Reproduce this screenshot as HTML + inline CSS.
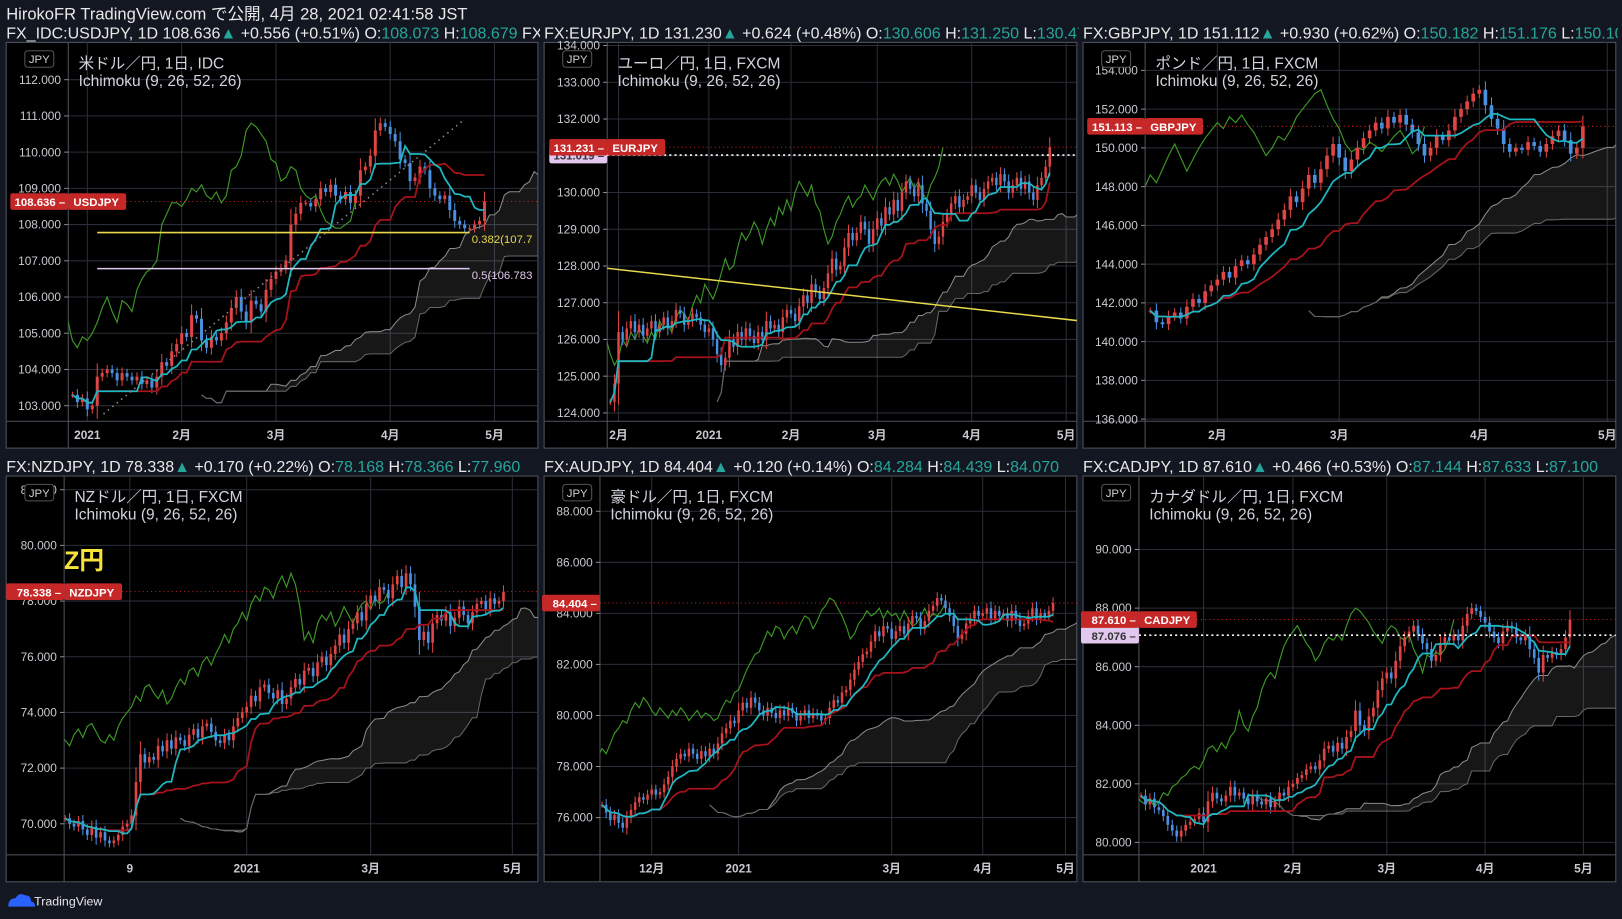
<!DOCTYPE html>
<html><head><meta charset="utf-8"><style>
html,body{margin:0;padding:0;background:#131722;overflow:hidden}
svg{display:block}
text{font-family:"Liberation Sans","Noto Sans CJK JP",sans-serif}
</style></head><body>
<svg id="root" xmlns="http://www.w3.org/2000/svg" width="1622" height="919" viewBox="0 0 1568 888" preserveAspectRatio="none">
<rect x="0" y="0" width="1568" height="888" fill="#131722"/>
<text x="6" y="19" font-size="16" fill="#e8e8e8">HirokoFR TradingView.com で公開, 4月 28, 2021 02:41:58 JST</text>
<g>
<path d="M8 876 q0-8 7-8 q3-6 9-3 q6 0 6 6 q4 1 4 5 z" fill="#2962ff"/>
<text x="33" y="875" font-size="12" fill="#e8e8e8">TradingView</text>
</g>
</svg>
<script>
// ===== Data arrays =====
const usdCloses=[103.3,103.1,103.2,
102.9,103.0,103.8,103.9,104.0,103.9,103.7,103.9,103.8,103.7,103.8,103.6,103.7,103.5,103.8,104.2,104.1,104.5,104.7,
105.0,104.9,105.5,105.4,104.8,104.6,104.9,104.8,105.0,105.3,105.7,106.0,105.6,105.3,105.9,105.8,105.6,106.2,106.5,
106.7,106.8,107.0,108.0,108.3,108.6,108.6,108.5,108.7,109.0,108.9,109.1,108.8,108.7,108.9,108.6,108.8,109.5,109.6,109.9,110.6,110.8,110.7,
110.5,110.3,109.8,109.7,109.2,109.3,109.6,109.5,109.0,108.8,108.7,108.8,108.4,108.1,108.0,107.9,107.9,108.0,108.1,108.636];
const usdTicks=[103,104,105,106,107,108,109,110,111,112];
const usdMonthLabels=["2021","2月","3月","4月","5月"];
const usdMonthIdx=[3,22,41,64,85];
const usdFibLevels=[107.78,106.783];
const usdFibLabels=["0.382(107.7","0.5(106.783"];
const usdTrendIdx=[6.25,79];
const usdTrendVal=[102.77,110.91];

const eurCloses=[124.3,124.8,126.2,
126.0,126.3,126.5,126.2,126.4,126.1,126.3,126.5,126.2,126.4,126.6,126.3,126.5,126.8,126.7,126.4,126.5,126.7,126.6,126.4,126.2,126.3,
126.0,125.6,125.3,125.5,126.0,125.8,126.2,126.0,126.3,126.1,125.9,126.2,126.0,126.5,126.3,126.4,126.2,126.6,126.8,126.7,
126.5,126.9,127.2,127.0,127.5,127.3,127.1,127.4,127.8,128.2,127.9,128.0,128.5,128.9,128.7,128.9,129.2,129.0,128.6,129.0,
129.3,129.1,129.6,129.4,129.8,129.5,130.0,130.3,130.1,129.9,130.2,129.7,129.5,129.0,128.6,128.8,129.2,129.4,129.7,129.9,129.6,129.8,129.9,
130.2,130.0,129.8,130.1,130.3,130.4,130.2,130.5,130.3,130.0,130.2,130.4,130.1,130.3,130.0,129.8,130.2,130.4,130.7,131.231];
const eurTicks=[124,125,126,127,128,129,130,131,132,133,134];
const eurMonthLabels=["2月","2021","2月","3月","4月","5月"];
const eurMonthIdx=[2,24,44,65,88,111];
const eurTrendIdx=[-1,114];
const eurTrendVal=[127.94,126.51];
const eurRefLevel=131.019;

const gbpCloses=[141.6,141.0,140.9,141.3,141.5,141.2,141.8,142.2,142.0,142.6,142.9,
143.2,143.6,143.3,143.9,144.2,144.0,144.5,145.0,145.4,145.8,146.3,146.8,147.5,147.2,147.9,148.6,148.2,148.9,149.6,150.2,
149.5,148.8,149.4,150.0,150.5,150.9,151.3,151.0,151.6,151.3,151.7,151.2,150.8,150.2,149.6,150.0,150.6,150.4,150.9,151.6,152.0,152.4,152.8,
153.0,152.2,151.5,151.0,150.2,149.8,150.0,149.9,150.3,150.1,149.8,150.2,150.6,150.9,150.4,149.7,150.0,151.113];
const gbpTicks=[136,138,140,142,144,146,148,150,152,154];
const gbpMonthLabels=["2月","3月","4月","5月"];
const gbpMonthIdx=[11,31,54,75];

const nzdCloses=[70.2,70.0,69.9,70.1,69.8,69.6,69.9,69.5,69.7,69.4,
69.3,69.4,69.6,69.9,70.0,70.3,71.5,72.5,72.2,72.4,
72.3,72.8,72.6,73.0,72.7,73.1,73.0,72.8,73.2,73.4,
73.1,73.5,73.6,73.3,73.0,72.9,73.2,73.0,73.5,73.8,
74.0,74.2,74.6,74.4,74.9,75.0,74.7,74.5,74.8,74.3,
74.5,74.9,75.2,75.0,75.5,75.6,75.3,75.8,76.0,75.7,
76.1,76.4,76.8,76.5,77.0,77.2,77.6,77.3,77.9,78.2,
78.0,78.5,78.4,78.1,78.6,78.9,78.5,79.0,78.6,77.8,
76.6,76.9,76.5,77.2,77.5,77.3,77.6,77.1,77.4,77.8,
77.5,77.2,77.6,77.9,78.0,77.7,78.1,77.9,78.0,78.338];
const nzdTicks=[70,72,74,76,78,80,82];
const nzdMonthLabels=["9","2021","3月","5月"];
const nzdMonthIdx=[14.6,41,69,101];

const audCloses=[76.5,76.2,75.9,76.1,75.8,75.6,76.0,76.3,76.6,76.8,
76.7,76.9,77.1,76.9,77.0,77.3,77.6,78.0,78.3,78.5,
78.4,78.7,78.5,78.3,78.6,78.4,78.7,78.5,78.9,79.3,
79.5,79.8,79.7,80.2,80.5,80.3,80.7,80.5,80.2,80.0,
80.3,80.1,79.9,80.2,80.0,80.3,80.1,79.8,80.0,80.2,
79.9,80.1,80.0,79.8,79.9,80.3,80.6,80.5,80.9,81.0,
81.4,81.8,82.1,82.4,82.5,82.9,83.3,83.1,83.5,83.4,
83.0,83.3,83.5,83.2,83.6,83.9,83.8,83.4,83.7,84.1,
84.3,84.6,84.5,84.2,83.9,83.5,83.0,83.2,83.6,83.8,
84.1,83.9,84.0,84.2,83.8,84.1,83.9,84.0,83.7,84.1,
83.8,83.5,83.6,83.9,84.2,83.8,84.0,83.9,84.1,84.404];
const audTicks=[76,78,80,82,84,86,88];
const audMonthLabels=["12月","2021","3月","4月","5月"];
const audMonthIdx=[12,33,70,92,112];

const cadCloses=[81.6,81.3,81.5,81.2,81.1,80.9,80.6,80.4,80.2,80.4,
80.6,80.7,80.8,81.0,80.7,81.4,81.7,81.5,81.4,81.6,
81.9,81.6,81.7,81.5,81.3,81.6,81.4,81.3,81.5,81.2,
81.4,81.7,81.6,81.9,82.0,82.2,82.3,82.5,82.6,82.5,
82.8,83.2,83.3,83.1,83.4,83.2,83.6,83.8,84.5,84.0,
83.8,84.3,84.6,85.2,85.6,85.8,85.6,86.2,86.7,87.0,
87.2,87.4,87.1,86.8,86.6,86.2,86.4,86.8,87.0,86.9,
87.1,86.9,87.4,87.8,88.0,87.9,87.7,87.5,87.2,87.0,
86.8,87.2,87.4,87.3,87.0,86.9,87.1,86.6,86.3,85.8,
86.4,86.3,86.5,86.4,86.6,87.0,87.61];
const cadTicks=[80,82,84,86,88,90];
const cadMonthLabels=["2021","2月","3月","4月","5月"];
const cadMonthIdx=[14,34,55,77,99];
const cadRefLevel=87.076;

// ===== Rendering =====
const NS='http://www.w3.org/2000/svg';
const root=document.getElementById('root');
function mk(tag,attrs,parent){const e=document.createElementNS(NS,tag);for(const k in attrs)e.setAttribute(k,attrs[k]);(parent||root).appendChild(e);return e;}
const TEAL='#26a69a', UP='#e04444', DOWN='#4a8fe0';

const panels=[
 {id:'usdjpy',px:6,py:41,pw:514,ph:392,ax:66,pb:407,yA:{v:112,y:77},yB:{v:103,y:392},x0:70,dx:4.8,closes:usdCloses,ticks:usdTicks,ml:usdMonthLabels,mi:usdMonthIdx,
  sym:'USDJPY',title:'米ドル／円, 1日, IDC',hdr:['FX_IDC:USDJPY, 1D 108.636','+0.556 (+0.51%) O:','108.073',' H:','108.679',' FX','']},
 {id:'eurjpy',px:526,py:41,pw:515,ph:392,ax:587,pb:407,yA:{v:134,y:44},yB:{v:124,y:399},x0:590,dx:3.97,closes:eurCloses,ticks:eurTicks,ml:eurMonthLabels,mi:eurMonthIdx,
  sym:'EURJPY',title:'ユーロ／円, 1日, FXCM',hdr:['FX:EURJPY, 1D 131.230','+0.624 (+0.48%) O:','130.606',' H:','131.250',' L:','130.470']},
 {id:'gbpjpy',px:1047,py:41,pw:515,ph:392,ax:1107,pb:407,yA:{v:154,y:68},yB:{v:136,y:405},x0:1112,dx:5.89,closes:gbpCloses,ticks:gbpTicks,ml:gbpMonthLabels,mi:gbpMonthIdx,
  sym:'GBPJPY',title:'ポンド／円, 1日, FXCM',hdr:['FX:GBPJPY, 1D 151.112','+0.930 (+0.62%) O:','150.182',' H:','151.176',' L:','150.100']},
 {id:'nzdjpy',px:6,py:460,pw:514,ph:392,ax:62,pb:826,yA:{v:80,y:527},yB:{v:70,y:796},x0:63,dx:4.28,closes:nzdCloses,ticks:nzdTicks,ml:nzdMonthLabels,mi:nzdMonthIdx,
  sym:'NZDJPY',title:'NZドル／円, 1日, FXCM',hdr:['FX:NZDJPY, 1D 78.338','+0.170 (+0.22%) O:','78.168',' H:','78.366',' L:','77.960']},
 {id:'audjpy',px:526,py:460,pw:515,ph:392,ax:580,pb:826,yA:{v:88,y:494},yB:{v:76,y:790},x0:582,dx:4.0,closes:audCloses,ticks:audTicks,ml:audMonthLabels,mi:audMonthIdx,
  sym:null,title:'豪ドル／円, 1日, FXCM',hdr:['FX:AUDJPY, 1D 84.404','+0.120 (+0.14%) O:','84.284',' H:','84.439',' L:','84.070']},
 {id:'cadjpy',px:1047,py:460,pw:515,ph:392,ax:1101,pb:826,yA:{v:90,y:531},yB:{v:80,y:814},x0:1103,dx:4.32,closes:cadCloses,ticks:cadTicks,ml:cadMonthLabels,mi:cadMonthIdx,
  sym:'CADJPY',title:'カナダドル／円, 1日, FXCM',hdr:['FX:CADJPY, 1D 87.610','+0.466 (+0.53%) O:','87.144',' H:','87.633',' L:','87.100']}
];

function midRange(h,l,i,n){let s=Math.max(0,i-n+1),hi=-1e9,lo=1e9;for(let k=s;k<=i;k++){if(h[k]>hi)hi=h[k];if(l[k]<lo)lo=l[k];}return (hi+lo)/2;}

panels.forEach(function(c){
 const X=i=>c.x0+i*c.dx;
 const Y=v=>c.yA.y+(v-c.yA.v)*(c.yB.y-c.yA.y)/(c.yB.v-c.yA.v);
 const g=mk('g',{});
 
 
 const cpH=mk('clipPath',{id:'hc-'+c.id},g); mk('rect',{x:c.px,y:c.py-20,width:c.pw+2,height:20},cpH);
 const hy=c.py-4;
 const ht=mk('text',{x:c.px,y:hy,'font-size':15.5,fill:'#e8e8e8','clip-path':'url(#hc-'+c.id+')'},g);
 
 
 const parts=[[c.hdr[0],'#e8e8e8'],['▲',TEAL],[' '+c.hdr[1],'#e8e8e8'],[c.hdr[2],TEAL],[c.hdr[3],'#e8e8e8'],[c.hdr[4],TEAL]];
 if(c.hdr[5]) parts.push([c.hdr[5],'#e8e8e8']);
 if(c.hdr[6]) parts.push([c.hdr[6],TEAL]);
 parts.forEach(p=>{const ts=mk('tspan',{fill:p[1]},ht);ts.textContent=p[0];});
 const box=mk('rect',{x:c.px,y:c.py,width:c.pw,height:c.ph,fill:'#000',stroke:'#50535e','stroke-width':1},g);
 
 
 const cp=mk('clipPath',{id:'pc-'+c.id},g); mk('rect',{x:c.ax,y:c.py,width:c.px+c.pw-c.ax,height:c.pb-c.py},cp);
 const grid=mk('g',{stroke:'#2b2e38','stroke-width':1,'clip-path':'url(#pc-'+c.id+')'},g);
 
 
 c.ticks.forEach(t=>{mk('line',{x1:c.ax,x2:c.px+c.pw,y1:Y(t),y2:Y(t)},grid);});
 c.mi.forEach(m=>{mk('line',{x1:X(m),x2:X(m),y1:c.py,y2:c.pb},grid);});
 const axl=mk('line',{x1:c.ax,x2:c.ax,y1:c.py,y2:c.py+c.ph,stroke:'#50535e'},g);
 
 
 const bxl=mk('line',{x1:c.px,x2:c.px+c.pw,y1:c.pb,y2:c.pb,stroke:'#50535e'},g);
 
 
 const yl=mk('g',{'font-size':11.5,fill:'#c8cad0','text-anchor':'end'},g);
 
 
 c.ticks.forEach(t=>{const yy=Y(t); if(yy<c.py+3||yy>c.pb)return;
  const tt=mk('text',{x:c.ax-7,y:yy+4},yl); tt.textContent=t.toFixed(3);
  
  
  mk('line',{x1:c.ax-4,x2:c.ax,y1:yy,y2:yy,stroke:'#888'},yl);});
 const xl=mk('g',{'font-size':11.5,fill:'#c8cad0','text-anchor':'middle','font-weight':'bold'},g);
 
 
 c.ml.forEach((m,k)=>{const tt=mk('text',{x:X(c.mi[k]),y:c.pb+17},xl);tt.textContent=m;
  
  });
 const n=c.closes.length, O=[],H=[],L=[];
 const unit=(c.yA.v-c.yB.v)/(c.yB.y-c.yA.y);
 for(let i=0;i<n;i++){const cl=c.closes[i],op=i?c.closes[i-1]:cl;O.push(op);
  const w=Math.abs(cl-op)*0.35+unit*3; H.push(Math.max(op,cl)+w); L.push(Math.min(op,cl)-w);}
 const ten=[],kij=[],spA=[],spB=[];
 for(let i=0;i<n;i++){ten.push(midRange(H,L,i,9));kij.push(midRange(H,L,i,26));spA.push((ten[i]+kij[i])/2);spB.push(midRange(H,L,i,52));}
 const plot=mk('g',{'clip-path':'url(#pc-'+c.id+')'},g);
 
 
 let top=[],bot=[];
 for(let i=0;i<n;i++){top.push(X(i+26).toFixed(1)+','+Y(spA[i]).toFixed(1));bot.push(X(i+26).toFixed(1)+','+Y(spB[i]).toFixed(1));}
 const cloud=mk('polygon',{points:top.concat(bot.slice().reverse()).join(' '),fill:'rgba(255,255,255,0.09)'},plot);
 
 
 const la=mk('polyline',{points:top.join(' '),fill:'none',stroke:'#8a8a8a','stroke-width':1},plot);
 
 
 const lb=mk('polyline',{points:bot.join(' '),fill:'none',stroke:'#666','stroke-width':1},plot);
 
 
 let ch=[];for(let i=0;i<n;i++)ch.push(X(i-26).toFixed(1)+','+Y(c.closes[i]).toFixed(1));
 const chl=mk('polyline',{points:ch.join(' '),fill:'none',stroke:'#3d9a25','stroke-width':1.1},plot);
 
 
 const cg=mk('g',{},plot);
 
 
 const bw=Math.max(1.5,c.dx*0.6);
 for(let i=0;i<n;i++){const up=c.closes[i]>=O[i],col=up?UP:DOWN,x=X(i);
  mk('line',{x1:x,x2:x,y1:Y(H[i]),y2:Y(L[i]),stroke:col,'stroke-width':1},cg);
  const y1=Y(Math.max(O[i],c.closes[i])),y2=Y(Math.min(O[i],c.closes[i]));
  const r=mk('rect',{x:x-bw/2,y:y1,width:bw,height:Math.max(1,y2-y1),fill:col},cg);
  
  }
 const kp=kij.map((v,i)=>X(i).toFixed(1)+','+Y(v).toFixed(1)).join(' ');
 const kl=mk('polyline',{points:kp,fill:'none',stroke:'#a8121a','stroke-width':1.7},plot);
 
 
 const tp=ten.map((v,i)=>X(i).toFixed(1)+','+Y(v).toFixed(1)).join(' ');
 const tl=mk('polyline',{points:tp,fill:'none',stroke:'#1fb8c2','stroke-width':1.7},plot);
 
 
 const last=c.closes[n-1];
 const lp=mk('line',{x1:c.ax,x2:c.px+c.pw,y1:Y(last),y2:Y(last),stroke:'#c62828','stroke-dasharray':'1 3','stroke-width':1},plot);
 
 
 c.X=X;c.Y=Y;c.g=g;c.plot=plot;c.last=last;
 const jb=mk('rect',{x:c.px+18,y:c.py+8,width:28,height:16,rx:3,fill:'#000',stroke:'#555'},g);
 
 
 const jt=mk('text',{x:c.px+32,y:c.py+20,'font-size':11,fill:'#d0d0d0','text-anchor':'middle'},g);jt.textContent='JPY';
 
 
 const t1=mk('text',{x:c.ax+10,y:c.py+25,'font-size':15,fill:'#d1d4dc'},g);t1.textContent=c.title;
 
 
 const t2=mk('text',{x:c.ax+10,y:c.py+42,'font-size':15,fill:'#d1d4dc'},g);t2.textContent='Ichimoku (9, 26, 52, 26)';
 
 
});

function priceTag(c,val,label,bg,fg,name){
 const y=c.Y(val);
 const g=mk('g',{},c.g);
 
 
 mk('rect',{x:c.ax-56,y:y-8,width:56,height:16,rx:2,fill:bg},g);
 const t=mk('text',{x:c.ax-3,y:y+4.5,'font-size':11,'font-weight':'bold',fill:fg,'text-anchor':'end'},g);t.textContent=val.toFixed(3)+' –';
 if(label){mk('rect',{x:c.ax,y:y-8,width:56,height:16,rx:2,fill:bg},g);
  const t2=mk('text',{x:c.ax+5,y:y+4.5,'font-size':11,'font-weight':'bold',fill:fg},g);t2.textContent=label;}
}
(function(){
 const c=panels[0];
 const fc=['#e8d84a','#e2c8ee'];
 usdFibLevels.forEach((v,k)=>{const l=mk('line',{x1:c.X(5),x2:c.X(80),y1:c.Y(v),y2:c.Y(v),stroke:fc[k],'stroke-width':1.5},c.plot);
  
  
  const t=mk('text',{x:c.X(80)+2,y:c.Y(v)+10,'font-size':11,fill:fc[k]},c.plot);t.textContent=usdFibLabels[k];
  
  });
 const tr=mk('line',{x1:c.X(usdTrendIdx[0]),x2:c.X(usdTrendIdx[1]),y1:c.Y(usdTrendVal[0]),y2:c.Y(usdTrendVal[1]),stroke:'#888','stroke-width':1.5,'stroke-dasharray':'1.5 4'},c.plot);
 
 
 priceTag(c,c.last,'USDJPY','#c62828','#fff','usdjpy-price-tag');
 const e=panels[1];
 const el=mk('line',{x1:e.X(eurTrendIdx[0]),x2:e.X(eurTrendIdx[1]),y1:e.Y(eurTrendVal[0]),y2:e.Y(eurTrendVal[1]),stroke:'#e8d84a','stroke-width':1.5},e.plot);
 
 
 const ed=mk('line',{x1:e.ax,x2:e.px+e.pw,y1:e.Y(eurRefLevel),y2:e.Y(eurRefLevel),stroke:'#fff','stroke-width':1.5,'stroke-dasharray':'2 3'},e.plot);
 
 
 priceTag(e,eurRefLevel,null,'#e2c8ee','#333','eurjpy-ref-tag');
 priceTag(e,e.last,'EURJPY','#c62828','#fff','eurjpy-price-tag');
 priceTag(panels[2],panels[2].last,'GBPJPY','#c62828','#fff','gbpjpy-price-tag');
 priceTag(panels[3],panels[3].last,'NZDJPY','#c62828','#fff','nzdjpy-price-tag');
 const z=mk('text',{x:62,y:550,'font-size':24,'font-weight':'bold',fill:'#f5e23a'},panels[3].g);z.textContent='Z円';
 
 
 priceTag(panels[4],panels[4].last,null,'#c62828','#fff','audjpy-price-tag');
 const d=panels[5];
 const dd=mk('line',{x1:d.ax,x2:d.px+d.pw,y1:d.Y(cadRefLevel),y2:d.Y(cadRefLevel),stroke:'#fff','stroke-width':1.5,'stroke-dasharray':'2 3'},d.plot);
 
 
 priceTag(d,cadRefLevel,null,'#e2c8ee','#333','cadjpy-ref-tag');
 priceTag(d,d.last,'CADJPY','#c62828','#fff','cadjpy-price-tag');
})();
</script>
</body></html>
